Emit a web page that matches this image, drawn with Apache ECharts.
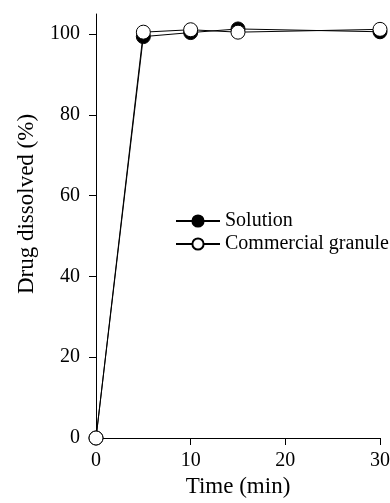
<!DOCTYPE html>
<html>
<head>
<meta charset="utf-8">
<script src="https://cdn.jsdelivr.net/npm/echarts@6/dist/echarts.min.js"></script>
<style>
  html, body { margin: 0; padding: 0; background: #fff; }
  #chart { width: 390px; height: 503px; }
</style>
</head>
<body>
<div id="chart"></div>
<script>
const chart = echarts.init(document.getElementById('chart'));

// time points (min)
const times = [0, 5, 10, 15, 30];
// % dissolved
const solution = [0, 99.4, 100.4, 101.3, 100.6];
const solutionErr = [0, 0.6, 0.5, 0.7, 0.5];
const granule = [0, 100.5, 101.1, 100.5, 101.2];
const granuleErr = [0, 0.8, 0.5, 0.4, 0.4];
const yTicks = [0, 20, 40, 60, 80, 100];

const font = 'Liberation Serif';

function pairs(vals) {
  return times.map((t, i) => [t, vals[i]]);
}

function errData(vals, errs) {
  return times.map((t, i) => [t, vals[i] - errs[i], vals[i] + errs[i]]);
}

// little error bars with caps
function renderErr(params, api) {
  const x = api.value(0);
  const lo = api.coord([x, api.value(1)]);
  const hi = api.coord([x, api.value(2)]);
  const w = 5;
  const style = { stroke: '#000', lineWidth: 1 };
  return {
    type: 'group',
    children: [
      { type: 'line', shape: { x1: lo[0], y1: lo[1], x2: hi[0], y2: hi[1] }, style },
      { type: 'line', shape: { x1: hi[0] - w, y1: hi[1], x2: hi[0] + w, y2: hi[1] }, style },
      { type: 'line', shape: { x1: lo[0] - w, y1: lo[1], x2: lo[0] + w, y2: lo[1] }, style }
    ]
  };
}

const option = {
  animation: false,
  grid: { left: 96, right: 10, top: 14, bottom: 65, outerBoundsMode: 'none', containLabel: false },
  legend: {
    orient: 'vertical',
    left: 170,
    top: 206,
    itemWidth: 44,
    itemHeight: 14,
    itemGap: 3,
    textStyle: { fontFamily: font, fontSize: 20, color: '#000' },
    data: ['Solution', 'Commercial granule']
  },
  xAxis: {
    type: 'value',
    min: 0,
    max: 30,
    interval: 10,
    name: 'Time (min)',
    nameLocation: 'middle',
    nameGap: 34,
    nameTextStyle: { fontFamily: font, fontSize: 23, color: '#000' },
    axisLine: { lineStyle: { color: '#000', width: 1 } },
    axisTick: { length: 7, lineStyle: { color: '#000' } },
    axisLabel: { fontFamily: font, fontSize: 20, color: '#000', margin: 13 },
    splitLine: { show: false }
  },
  yAxis: {
    type: 'value',
    min: 0,
    max: 105,
    name: 'Drug dissolved (%)',
    nameLocation: 'middle',
    nameGap: 58,
    nameTextStyle: { fontFamily: font, fontSize: 23, color: '#000', padding: [0, 0, 0, 44] },
    axisLine: { show: true, lineStyle: { color: '#000', width: 1 } },
    axisTick: { show: true, length: 7, customValues: yTicks, lineStyle: { color: '#000' } },
    axisLabel: { fontFamily: font, fontSize: 20, color: '#000', margin: 16, customValues: yTicks },
    splitLine: { show: false }
  },
  series: [
    {
      type: 'custom',
      renderItem: renderErr,
      data: errData(solution, solutionErr),
      z: 1,
      silent: true
    },
    {
      type: 'custom',
      renderItem: renderErr,
      data: errData(granule, granuleErr),
      z: 1,
      silent: true
    },
    {
      name: 'Solution',
      type: 'line',
      data: pairs(solution),
      symbol: 'circle',
      symbolSize: 14,
      z: 2,
      lineStyle: { color: '#000', width: 1 },
      itemStyle: { color: '#000', borderColor: '#000', borderWidth: 1 }
    },
    {
      name: 'Commercial granule',
      type: 'line',
      data: pairs(granule),
      symbol: 'circle',
      symbolSize: 14,
      z: 3,
      lineStyle: { color: '#000', width: 1 },
      itemStyle: { color: '#fff', borderColor: '#000', borderWidth: 1 }
    }
  ]
};

chart.setOption(option);
</script>
</body>
</html>
